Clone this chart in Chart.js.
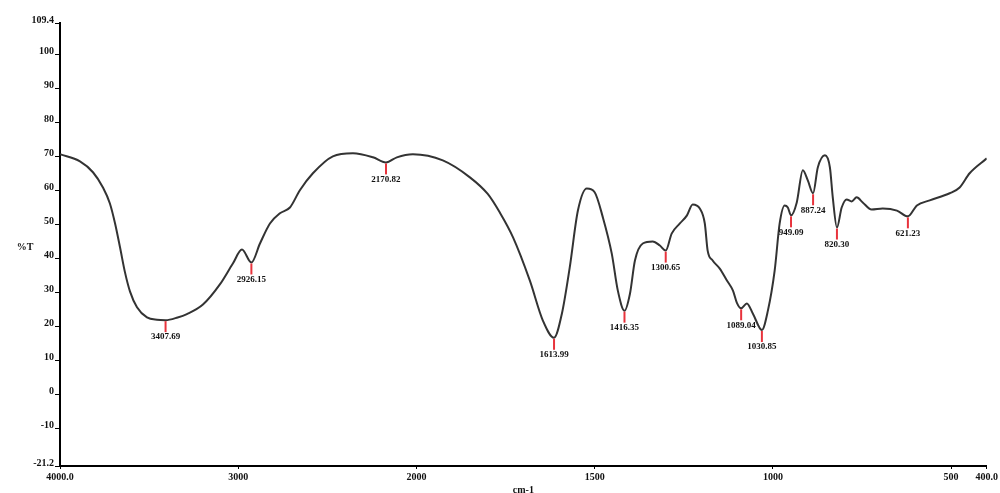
<!DOCTYPE html>
<html>
<head>
<meta charset="utf-8">
<script src="https://cdn.jsdelivr.net/npm/chart.js@4"></script>
<style>
  html, body { margin: 0; padding: 0; background: #fff; }
  canvas { display: block; }
</style>
</head>
<body>
<canvas id="ir" width="1000" height="493"></canvas>
<script>
// ── Spectrum (wavenumber cm-1 / %T) ───────
const wavenumbers = [
  4000, 3888, 3815, 3759, 3720, 3691, 3663, 3635, 3607, 3568, 3512, 3456, 3407.69, 3340,
  3288, 3198, 3102, 3030, 2979, 2926.15, 2878, 2822, 2766, 2710, 2654, 2581, 2469, 2356,
  2244, 2170.82, 2110, 2020, 1926, 1850, 1800, 1766, 1729, 1682, 1645, 1613.99, 1592, 1570,
  1547, 1522, 1500, 1477, 1452, 1435, 1416.35, 1401, 1387, 1365, 1337, 1317, 1300.65, 1284,
  1261, 1241, 1225, 1205, 1191, 1183, 1169, 1149, 1129, 1112, 1101, 1089.04, 1073, 1056,
  1030.85, 1014, 995, 981, 967, 958, 949.09, 933, 916, 902, 887.24, 874, 854, 840, 832,
  820.30, 807, 793, 779, 765, 748, 723, 692, 652, 621.23, 596, 560, 504, 476, 448, 400,
];
const transmittance = [
  70.7, 68.6, 65.4, 60.9, 56.2, 50.3, 43.2, 35.8, 30.2, 25.6, 22.6, 21.9, 21.8, 22.6,
  23.6, 26.4, 32.4, 38.5, 42.6, 38.8, 44.4, 50.3, 53.3, 55.0, 60.1, 65.1, 70.1, 71.0,
  69.8, 68.3, 69.8, 70.7, 68.9, 63.9, 59.0, 53.5, 46.2, 33.5, 21.6, 16.6, 23.7, 37.3,
  54.1, 60.6, 59.5, 52.1, 41.4, 30.5, 24.6, 29.6, 39.4, 44.4, 45.0, 43.8, 42.3, 47.3,
  50.3, 52.7, 55.9, 54.7, 50.3, 42.3, 39.4, 37.0, 33.5, 30.5, 26.9, 25.3, 26.7, 23.7,
  18.9, 24.6, 36.4, 50.3, 55.6, 55.0, 52.7, 56.5, 66.0, 63.0, 59.2, 66.8, 70.4, 66.8, 58.0,
  49.1, 55.0, 57.4, 56.8, 58.0, 56.5, 54.4, 54.7, 54.1, 52.4, 55.6, 57.1, 59.2, 60.9, 65.1, 69.5,
];

// ── Peak picks ────────────────────────────
const peakLabels = ['3407.69', '2926.15', '2170.82', '1613.99', '1416.35', '1300.65',
  '1089.04', '1030.85', '949.09', '887.24', '820.30', '621.23'];
const peakWn = [3407.69, 2926.15, 2170.82, 1613.99, 1416.35, 1300.65,
  1089.04, 1030.85, 949.09, 887.24, 820.30, 621.23];
const peakT = [21.8, 38.8, 68.3, 16.6, 24.6, 42.3, 25.3, 18.9, 52.7, 59.2, 49.1, 52.4];

// ── Axis ticks ────────────────────────────
const xTickWn = [4000, 3000, 2000, 1500, 1000, 500, 400];
const xTickText = ['4000.0', '3000', '2000', '1500', '1000', '500', '400.0'];
const yTickValues = [109.4, 100, 90, 80, 70, 60, 50, 40, 30, 20, 10, 0, -10, -21.2];
const yMin = -21.2;
const yMax = 109.4;

// x axis is compressed above 2000 cm-1 (half scale), like the instrument plot
function wnToPos(wn) {
  return wn >= 2000 ? 4000 - wn : 2000 + 2 * (2000 - wn);
}

const SERIF = "'Liberation Serif', 'Times New Roman', serif";
const INK = '#111';

const points = wavenumbers.map((wn, i) => ({ x: wnToPos(wn), y: transmittance[i] }));

// ── Peak markers + y title ────────────────
const peakPlugin = {
  id: 'peaks',
  afterDatasetsDraw(chart) {
    const { ctx, scales: { x, y } } = chart;
    ctx.save();
    ctx.font = `bold 9px ${SERIF}`;
    ctx.textAlign = 'center';
    ctx.textBaseline = 'middle';
    peakWn.forEach((wn, i) => {
      const px = x.getPixelForValue(wnToPos(wn));
      const py = y.getPixelForValue(peakT[i]);
      ctx.strokeStyle = '#e8333c';
      ctx.lineWidth = 2;
      ctx.beginPath();
      ctx.moveTo(px, py + 1);
      ctx.lineTo(px, py + 12);
      ctx.stroke();
      ctx.fillStyle = INK;
      ctx.fillText(peakLabels[i], px, py + 17);
    });
    ctx.font = `bold 10px ${SERIF}`;
    ctx.fillText('%T', 25, 247);
    ctx.restore();
  },
};

new Chart(document.getElementById('ir'), {
  type: 'line',
  data: {
    datasets: [{
      data: points,
      borderColor: '#333',
      borderWidth: 2,
      pointRadius: 0,
      fill: false,
      cubicInterpolationMode: 'monotone',
    }],
  },
  options: {
    responsive: false,
    animation: false,
    layout: { padding: { top: 23, right: 13, left: 0, bottom: 0 } },
    plugins: { legend: { display: false }, tooltip: { enabled: false } },
    scales: {
      x: {
        type: 'linear',
        min: 0,
        max: wnToPos(400),
        afterBuildTicks: (s) => { s.ticks = xTickWn.map(wn => ({ value: wnToPos(wn) })); },
        afterFit: (s) => { s.height = 27; },
        border: { display: true, color: '#000', width: 2 },
        grid: { drawOnChartArea: false, drawTicks: true, tickLength: 3, color: '#000' },
        ticks: {
          autoSkip: false,
          maxRotation: 0,
          padding: 2,
          color: INK,
          font: { family: SERIF, size: 10, weight: 'bold' },
          callback: (v, i) => xTickText[i],
        },
        title: {
          display: true,
          text: 'cm-1',
          color: INK,
          padding: 0,
          font: { family: SERIF, size: 10, weight: 'bold', lineHeight: 0.6 },
        },
      },
      y: {
        min: yMin,
        max: yMax,
        afterBuildTicks: (s) => { s.ticks = yTickValues.map(v => ({ value: v })); },
        afterFit: (s) => { s.width = 60; },
        border: { display: true, color: '#000', width: 2 },
        grid: { drawOnChartArea: false, drawTicks: true, tickLength: 5, color: '#000' },
        ticks: {
          autoSkip: false,
          padding: 1,
          labelOffset: -3,
          color: INK,
          font: { family: SERIF, size: 10, weight: 'bold' },
          callback: (v) => (v === yMax || v === yMin ? v.toFixed(1) : String(v)),
        },
      },
    },
  },
  plugins: [peakPlugin],
});
</script>
</body>
</html>
